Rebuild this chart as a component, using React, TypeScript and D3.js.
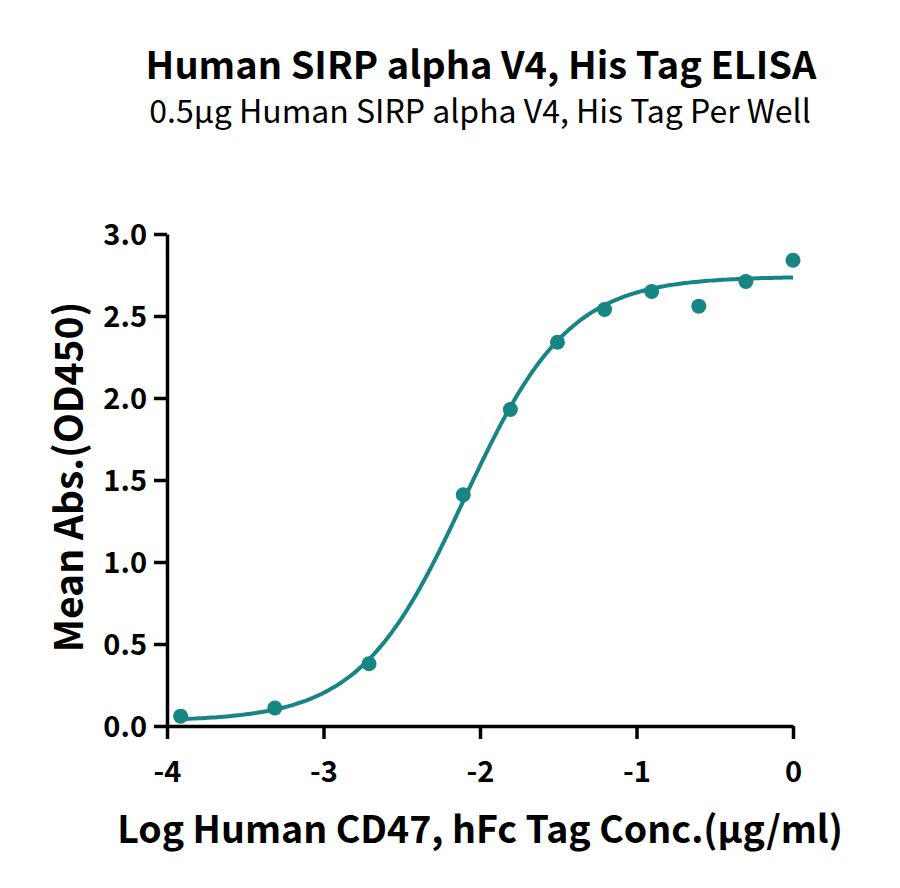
import { useEffect, useRef } from "react";
import * as d3 from "d3";

const width = 900, height = 888;
const margin = { top: 234, right: 107, bottom: 162, left: 167 };

const title = "Human SIRP alpha V4, His Tag ELISA";
const subtitle = "0.5μg Human SIRP alpha V4, His Tag Per Well";
const xLabel = "Log Human CD47, hFc Tag Conc.(μg/ml)";
const yLabel = "Mean Abs.(OD450)";

// log10 concentration (ug/ml) and measured OD450
const logConc = [-3.913, -3.311, -2.709, -2.107, -1.806, -1.505, -1.204, -0.903, -0.602, -0.301, 0];
const od450 = [0.06, 0.11, 0.38, 1.41, 1.93, 2.34, 2.54, 2.65, 2.56, 2.71, 2.84];

// 4PL fit parameters
const fitBottom = 0.03, fitTop = 2.74, fitLogEC50 = -2.1, fitHill = 1.3;

const xTicks = [-4, -3, -2, -1, 0];
const yTicks = [0, 0.5, 1, 1.5, 2, 2.5, 3];

const teal = "#168584";
const font = "'Noto Sans CJK SC', 'Noto Sans', sans-serif";

const App = () => {
  const ref = useRef<HTMLDivElement>(null);

  useEffect(() => {
    const svg = d3.select(ref.current)
      .append("svg")
      .attr("width", width)
      .attr("height", height)
      .style("position", "absolute")
      .style("left", 0)
      .style("top", 0)
      .style("background", "#fff");

    const x = d3.scaleLinear().domain([-4, 0]).range([margin.left, width - margin.right]);
    const y = d3.scaleLinear().domain([0, 3]).range([height - margin.bottom, margin.top]);

    svg.append("text")
      .attr("x", 481).attr("y", 79)
      .attr("text-anchor", "middle")
      .attr("font-family", font).attr("font-weight", 700).attr("font-size", 38)
      .text(title);
    svg.append("text")
      .attr("x", 480).attr("y", 123)
      .attr("text-anchor", "middle")
      .attr("font-family", font).attr("font-weight", 400).attr("font-size", 32)
      .text(subtitle);

    // y axis
    const gy = svg.append("g")
      .attr("transform", `translate(${margin.left},0)`)
      .call(d3.axisLeft(y).tickValues(yTicks).tickFormat(d3.format(".1f")).tickSize(13).tickSizeOuter(0));
    gy.selectAll("line").attr("stroke-width", 3.5);
    gy.select(".domain").attr("stroke-width", 3.5);
    gy.selectAll("text")
      .attr("font-family", font).attr("font-weight", 700).attr("font-size", 29)
      .attr("fill", "#000").attr("x", -20).attr("dy", "0.36em");

    // x axis
    const gx = svg.append("g")
      .attr("transform", `translate(0,${height - margin.bottom})`)
      .call(d3.axisBottom(x).tickValues(xTicks).tickFormat(d3.format("d")).tickSize(13).tickSizeOuter(0));
    gx.selectAll("line").attr("stroke-width", 3.5);
    gx.select(".domain").attr("stroke-width", 3.5);
    gx.selectAll("text")
      .attr("font-family", font).attr("font-weight", 700).attr("font-size", 29)
      .attr("fill", "#000").attr("y", 56).attr("dy", 0)
      .text(d => String(d).replace("−", "-"));

    // fitted curve
    const fit = (v: number) => fitBottom + (fitTop - fitBottom) / (1 + Math.pow(10, (fitLogEC50 - v) * fitHill));
    const xs = d3.range(0, 201).map(i => logConc[0] + (0 - logConc[0]) * i / 200);
    svg.append("path")
      .datum(xs)
      .attr("fill", "none")
      .attr("stroke", teal)
      .attr("stroke-width", 4)
      .attr("d", d3.line<number>().x(d => x(d)).y(d => y(fit(d))));

    // points
    svg.append("g")
      .selectAll("circle")
      .data(logConc.map((c, i) => [c, od450[i]]))
      .join("circle")
      .attr("cx", d => x(d[0]))
      .attr("cy", d => y(d[1]))
      .attr("r", 7.5)
      .attr("fill", teal);

    svg.append("text")
      .attr("x", 480).attr("y", 843)
      .attr("text-anchor", "middle")
      .attr("font-family", font).attr("font-weight", 700).attr("font-size", 37.5)
      .text(xLabel);
    svg.append("text")
      .attr("transform", `translate(83,477) rotate(-90)`)
      .attr("text-anchor", "middle")
      .attr("font-family", font).attr("font-weight", 700).attr("font-size", 39)
      .text(yLabel);

    return () => {
      d3.select(ref.current).select("svg").remove();
    };
  }, []);

  return <div ref={ref}></div>;
};

export default App;
